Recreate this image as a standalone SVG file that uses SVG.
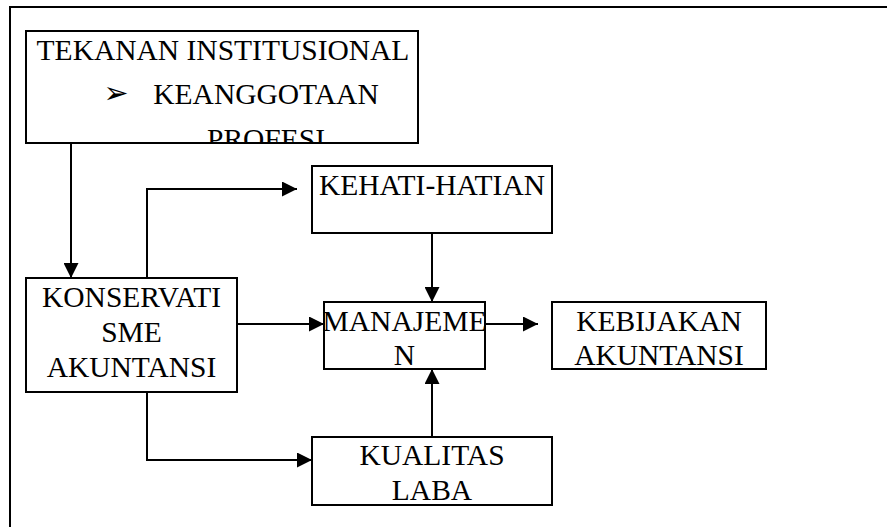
<svg xmlns="http://www.w3.org/2000/svg" width="887" height="527" viewBox="0 0 887 527">
<style>
.box{fill:#fff;stroke:#000;stroke-width:2}
.t{font-family:"Liberation Serif","Times New Roman",serif;font-size:29.5px;fill:#000;text-anchor:middle}
.c{fill:none;stroke:#000;stroke-width:2}
.frame{fill:none;stroke:#000;stroke-width:2}
</style>
<defs>
<marker id="ah" viewBox="0 0 14 14" refX="14" refY="7" markerWidth="15" markerHeight="15" markerUnits="userSpaceOnUse" orient="auto">
<path d="M0,0 L14,7 L0,14 Z" fill="#000"/>
</marker>
<clipPath id="clipTek"><rect x="27" y="32" width="390" height="110"/></clipPath>
</defs>
<path class="frame" d="M10,527 L10,7 L887,7"/>
<g id="connectors">
<path class="c" d="M71,143 L71,278" marker-end="url(#ah)"/>
<path class="c" d="M147,278 L147,189 L297,189" marker-end="url(#ah)"/>
<path class="c" d="M432,233 L432,302" marker-end="url(#ah)"/>
<path class="c" d="M237,324 L324,324" marker-end="url(#ah)"/>
<path class="c" d="M485,324 L538,324" marker-end="url(#ah)"/>
<path class="c" d="M432,437 L432,369" marker-end="url(#ah)"/>
<path class="c" d="M147,392 L147,460 L312,460" marker-end="url(#ah)"/>
</g>
<g id="tekanan">
<rect class="box" x="26" y="31" width="392" height="112"/>
<g clip-path="url(#clipTek)">
<text class="t" x="223" y="60">TEKANAN INSTITUSIONAL</text>
<text x="116" y="103" style="font-family:'DejaVu Sans',sans-serif;font-size:30px;text-anchor:middle">➢</text>
<text class="t" x="266" y="104">KEANGGOTAAN</text>
<text class="t" x="266" y="149">PROFESI</text>
</g>
</g>
<g id="kehati">
<rect class="box" x="312" y="166" width="240" height="67"/>
<text class="t" x="432" y="195">KEHATI-HATIAN</text>
</g>
<g id="konservatisme">
<rect class="box" x="26" y="278" width="211" height="114"/>
<text class="t" x="131.5" y="307">KONSERVATI</text>
<text class="t" x="131.5" y="342">SME</text>
<text class="t" x="131.5" y="377">AKUNTANSI</text>
</g>
<g id="manajemen">
<rect class="box" x="324" y="302" width="161" height="67"/>
<text class="t" x="404.5" y="331">MANAJEME</text>
<text class="t" x="404.5" y="365">N</text>
</g>
<g id="kebijakan">
<rect class="box" x="552" y="302" width="214" height="67"/>
<text class="t" x="659" y="331">KEBIJAKAN</text>
<text class="t" x="659" y="365">AKUNTANSI</text>
</g>
<g id="kualitas">
<rect class="box" x="312" y="437" width="240" height="68"/>
<text class="t" x="432" y="465">KUALITAS</text>
<text class="t" x="432" y="500">LABA</text>
</g>
</svg>
